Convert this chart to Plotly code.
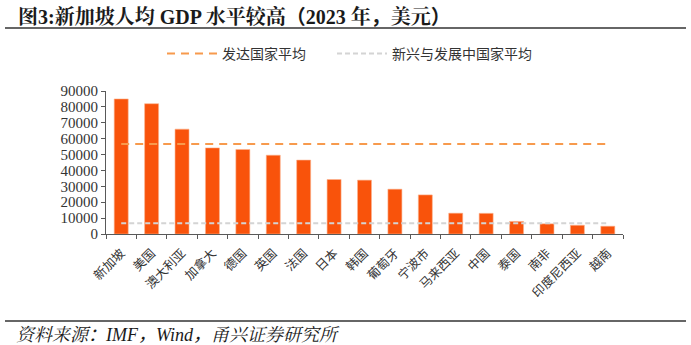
import plotly.graph_objects as go

categories = ["新加坡", "美国", "澳大利亚", "加拿大", "德国", "英国", "法国", "日本", "韩国",
              "葡萄牙", "宁波市", "马来西亚", "中国", "泰国", "南非", "印度尼西亚", "越南"]
gdp_per_capita = [85000, 82000, 66000, 54200, 53200, 49600, 46500, 34300, 33900,
                  28200, 24600, 13100, 13000, 7900, 6400, 5500, 4900]
advanced_avg = 56600
emerging_avg = 6700
y_ticks = [0, 10000, 20000, 30000, 40000, 50000, 60000, 70000, 80000, 90000]

W, H = 691, 345
ML, MR, MT, MB = 106, 68, 91, 111
PW = W - ML - MR
PH = H - MT - MB

def px_x(x):
    return (x - ML) / PW

def px_y(y):
    return (H - MB - y) / PH

BAR = "#F9530B"
ORANGE = "#F79A4D"
GRAY = "#D4D4D4"
AXIS = "#595959"
SERIF = "Liberation Serif, Noto Serif CJK SC, Noto Sans CJK SC, serif"
CJK = "Noto Sans CJK SC, sans-serif"

def fw(ch):
    return f"<span style='font-family:Noto Sans CJK SC'>{ch}</span>"

fig = go.Figure()
fig.add_trace(go.Bar(x=categories, y=gdp_per_capita, marker=dict(color=BAR, line=dict(color="#FBB48F", width=0.6)),
                     showlegend=False, hoverinfo="x+y"))
fig.add_trace(go.Scatter(x=[categories[0], categories[-1]], y=[advanced_avg, advanced_avg], mode="lines",
                         name="发达国家平均", line=dict(color=ORANGE, width=2, dash="8px,6px"),
                         legend="legend"))
fig.add_trace(go.Scatter(x=[categories[0], categories[-1]], y=[emerging_avg, emerging_avg], mode="lines",
                         name="新兴与发展中国家平均", line=dict(color=GRAY, width=2, dash="5px,3px"),
                         legend="legend2"))

legend_common = dict(orientation="h", xref="container", yref="container", xanchor="left", yanchor="middle",
                     font=dict(family=CJK, size=14, color="#333333"), bgcolor="rgba(0,0,0,0)",
                     itemwidth=50, tracegroupgap=0)
fig.update_layout(
    width=W, height=H,
    margin=dict(l=ML, r=MR, t=MT, b=MB),
    plot_bgcolor="white", paper_bgcolor="white",
    bargap=0.54,
    legend=dict(x=(162) / W, y=1 - 54 / H, **legend_common),
    legend2=dict(x=(332) / W, y=1 - 54 / H, **legend_common),
    xaxis=dict(showline=True, linecolor=AXIS, linewidth=1, ticks="outside", ticklen=4, tickcolor=AXIS,
               tickson="boundaries", tickangle=-45, tickfont=dict(family=CJK, size=12.5, color="#333333"),
               ticklabelstandoff=6, showgrid=False, range=[-0.5, 16.5]),
    yaxis=dict(range=[0, 90000], tickvals=y_ticks, tickformat="d", showline=True, linecolor=AXIS, linewidth=1,
               ticks="outside", ticklen=4, tickcolor=AXIS, showgrid=False, zeroline=False,
               tickfont=dict(family=SERIF, size=15, color="#333333")),
    font=dict(family=CJK),
)

title = ("<b>图3:新加坡人均 GDP 水平较高" + fw("（") + "2023 年" + fw("，") + "美元" + fw("）") + "</b>")
fig.add_annotation(text=title, xref="paper", yref="paper",
                   x=px_x(16), y=px_y(15), xanchor="left", yanchor="middle", showarrow=False,
                   font=dict(family=SERIF, size=20, color="#1a1a1a"))
fig.add_shape(type="line", xref="paper", yref="paper", x0=px_x(5), x1=px_x(686), y0=px_y(28), y1=px_y(28),
              line=dict(color="#333333", width=1.5))
fig.add_shape(type="line", xref="paper", yref="paper", x0=px_x(5), x1=px_x(686), y0=px_y(321), y1=px_y(321),
              line=dict(color="#333333", width=1.5))
source = "<i>资料来源" + fw("：") + "IMF" + fw("，") + "Wind" + fw("，") + "甬兴证券研究所</i>"
fig.add_annotation(text=source, xref="paper", yref="paper",
                   x=px_x(14), y=px_y(333), xanchor="left", yanchor="middle", showarrow=False,
                   font=dict(family=SERIF, size=18, color="#1a1a1a"))

fig.write_html("out.html")
